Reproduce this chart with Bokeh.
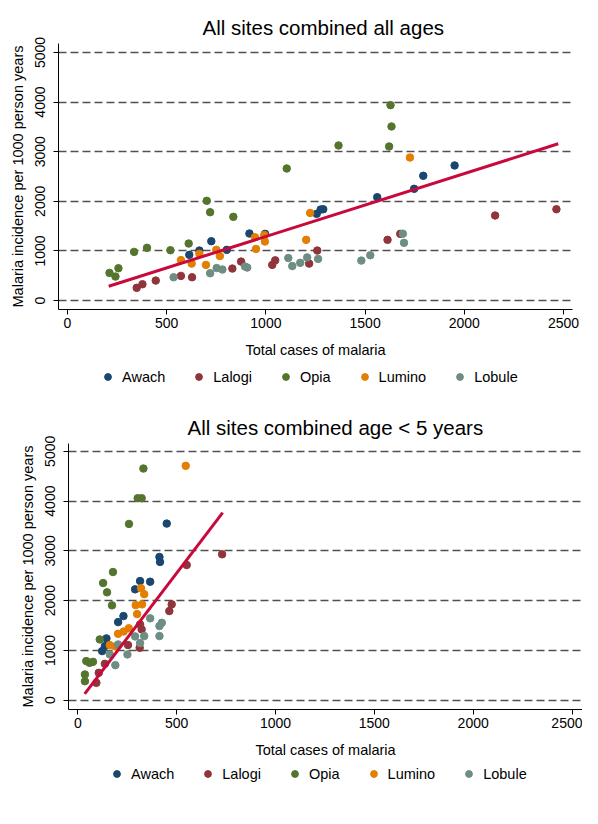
from bokeh.plotting import figure
from bokeh.models import Legend, LegendItem, FixedTicker, Range1d
from bokeh.embed import file_html
from bokeh.resources import INLINE

# ---------------- data: all ages ----------------
sites = ["Awach", "Lalogi", "Opia", "Lumino", "Lobule"]
site_colors = ["#1a476f", "#90353b", "#55752f", "#e37e00", "#6e8e84"]

awach_x = [614, 665, 725, 803, 917, 996, 1256, 1276, 1289, 1561, 1747, 1793, 1951]
awach_y = [921, 1008, 1196, 1022, 1351, 1344, 1747, 1835, 1840, 2083, 2252, 2514, 2722]
lalogi_x = [349, 378, 445, 572, 628, 831, 875, 1032, 1047, 1218, 1259, 1613, 1677, 2155, 2464]
lalogi_y = [256, 329, 403, 497, 470, 645, 786, 719, 810, 745, 1008, 1223, 1344, 1714, 1841]
opia_x = [212, 242, 257, 336, 401, 519, 611, 702, 719, 836, 1105, 1366, 1621, 1628, 1633]
opia_y = [558, 484, 651, 981, 1062, 1014, 1149, 2010, 1780, 1687, 2661, 3125, 3105, 3938, 3508]
lumino_x = [572, 626, 665, 698, 750, 768, 945, 950, 992, 995, 1203, 1223, 1726]
lumino_y = [815, 745, 941, 719, 1022, 897, 1275, 1040, 1320, 1190, 1223, 1765, 2883]
lobule_x = [535, 719, 752, 781, 895, 906, 1113, 1133, 1173, 1208, 1263, 1481, 1526, 1690, 1696]
lobule_y = [470, 551, 655, 625, 685, 665, 857, 695, 760, 870, 840, 806, 913, 1347, 1163]
fit_all_x = [208, 2473]
fit_all_y = [288, 3159]

# ---------------- data: age < 5 years ----------------
awach5_x = [450, 413, 416, 315, 366, 290, 231, 204, 145, 137, 123]
awach5_y = [3548, 2877, 2777, 2394, 2380, 2227, 1690, 1569, 1241, 1087, 986]
lalogi5_x = [730, 551, 475, 463, 323, 315, 313, 254, 137, 106, 94]
lalogi5_y = [2931, 2716, 1925, 1791, 1422, 1523, 1052, 1107, 730, 550, 348]
opia5_x = [332, 303, 323, 259, 178, 128, 148, 173, 111, 43, 60, 77, 36, 36]
opia5_y = [4654, 4058, 4058, 3541, 2575, 2354, 2167, 1905, 1221, 785, 750, 770, 517, 382]
lumino5_x = [546, 320, 336, 293, 325, 300, 258, 204, 232, 162, 190]
lumino5_y = [4708, 2250, 2130, 1910, 1925, 1730, 1445, 1334, 1380, 1107, 1080]
lobule5_x = [366, 425, 413, 413, 336, 315, 290, 251, 204, 162, 190]
lobule5_y = [1644, 1555, 1489, 1288, 1288, 1147, 1282, 920, 1120, 920, 704]
fit_u5_x = [35, 733]
fit_u5_y = [127, 3769]

x_ticks = [0, 500, 1000, 1500, 2000, 2500]
y_ticks = [0, 1000, 2000, 3000, 4000, 5000]
x_title = "Total cases of malaria"
y_title = "Malaria incidence per 1000 person years"
FONT = "Liberation Sans"
FIT_COLOR = "#c8093c"


def make_plot(title, title_offset, series, fit_x, fit_y, left, right, top, bottom, xr, yr):
    p = figure(frame_width=514, frame_height=266,
               x_range=Range1d(*xr), y_range=Range1d(*yr),
               output_backend="svg", toolbar_location=None,
               min_border_left=left, min_border_right=right,
               min_border_top=top, min_border_bottom=bottom)
    p.outline_line_color = None
    p.background_fill_color = "white"
    p.border_fill_color = "white"

    p.title.text = title
    p.title.align = "left"
    p.title.offset = title_offset
    p.title.text_font = FONT
    p.title.text_font_size = "20.5px"
    p.title.text_font_style = "normal"
    p.title.text_color = "black"

    p.xgrid.grid_line_color = None
    p.ygrid.ticker = FixedTicker(ticks=y_ticks)
    p.ygrid.grid_line_color = "#505050"
    p.ygrid.grid_line_width = 1.5
    p.ygrid.grid_line_dash = "8 4"

    for ax, ticks in ((p.xaxis[0], x_ticks), (p.yaxis[0], y_ticks)):
        ax.ticker = FixedTicker(ticks=ticks)
        ax.axis_line_color = "black"
        ax.axis_line_width = 1
        ax.major_tick_line_color = "black"
        ax.major_tick_out = 5
        ax.major_tick_in = 0
        ax.minor_tick_line_color = None
        ax.major_label_text_font = FONT
        ax.major_label_text_font_size = "14px"
        ax.major_label_text_color = "black"
        ax.axis_label_text_font = FONT
        ax.axis_label_text_font_size = "14.5px"
        ax.axis_label_text_font_style = "normal"
        ax.axis_label_text_color = "black"

    p.xaxis[0].axis_label = x_title
    p.xaxis[0].major_label_standoff = 3
    p.xaxis[0].axis_label_standoff = 11
    p.yaxis[0].axis_label = y_title
    p.yaxis[0].major_label_orientation = "vertical"
    p.yaxis[0].major_label_standoff = 8
    p.yaxis[0].axis_label_standoff = 7

    for color, (xs, ys) in zip(site_colors, series):
        p.scatter(xs, ys, size=7.5, marker="circle", fill_color=color, line_color=color)

    p.line(fit_x, fit_y, line_color=FIT_COLOR, line_width=3)
    return p


def make_legend(height, loc):
    # key strip: one swatch renderer per site, kept outside the visible range
    lf = figure(width=582, height=height, x_range=Range1d(0, 1), y_range=Range1d(0, 1),
                output_backend="svg", toolbar_location=None,
                x_axis_location=None, y_axis_location=None,
                min_border_left=0, min_border_right=0,
                min_border_top=0, min_border_bottom=0)
    lf.outline_line_color = None
    lf.xgrid.visible = False
    lf.ygrid.visible = False
    items = []
    for name, color in zip(sites, site_colors):
        r = lf.scatter([-5], [-5], size=7.5, marker="circle", fill_color=color, line_color=color)
        items.append(LegendItem(label=name, renderers=[r]))
    leg = Legend(items=items, orientation="horizontal", location=loc,
                 glyph_width=17, glyph_height=17, label_standoff=6, spacing=25,
                 padding=4, margin=0, border_line_color=None,
                 background_fill_alpha=0,
                 label_text_font=FONT, label_text_font_size="14.5px",
                 label_text_color="black")
    lf.add_layout(leg, "center")
    return lf


p1 = make_plot("All sites combined all ages", 144,
               [(awach_x, awach_y), (lalogi_x, lalogi_y), (opia_x, opia_y),
                (lumino_x, lumino_y), (lobule_x, lobule_y)],
               fit_all_x, fit_all_y,
               58, 10, 43, 53, (-45, 2545), (-180, 5180))
l1 = make_legend(38, (99, 15))

p2 = make_plot("All sites combined age < 5 years", 119,
               [(awach5_x, awach5_y), (lalogi5_x, lalogi5_y), (opia5_x, opia5_y),
                (lumino5_x, lumino5_y), (lobule5_x, lobule5_y)],
               fit_u5_x, fit_u5_y,
               68, 0, 43, 53, (-47, 2553), (-187, 5157))
l2 = make_legend(38, (108, 18))

open("out.html", "w").write(file_html([p1, l1, p2, l2], INLINE))
